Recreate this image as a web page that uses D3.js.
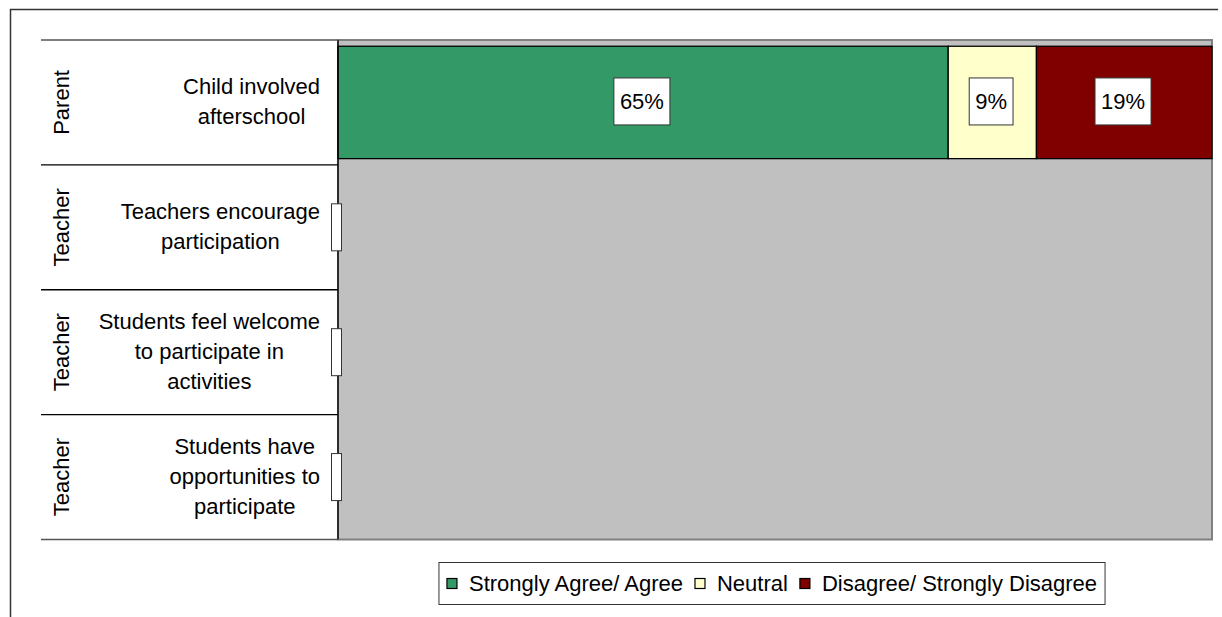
<!DOCTYPE html>
<html>
<head>
<meta charset="utf-8">
<script src="https://cdn.jsdelivr.net/npm/d3@7"></script>
<style>
  html, body { margin: 0; padding: 0; background: #ffffff; }
  svg { display: block; }
  text { font-family: "Liberation Sans", Arial, sans-serif; fill: #000; }
</style>
</head>
<body>
<svg id="chart" width="1222" height="617"></svg>
<script>
// ---- data ----
const groups = ["Parent", "Teacher", "Teacher", "Teacher"];
const categories = [
  "Child involved\nafterschool",
  "Teachers encourage\nparticipation",
  "Students feel welcome\nto participate in\nactivities",
  "Students have\nopportunities to\nparticipate"
];
const seriesNames = ["Strongly Agree/ Agree", "Neutral", "Disagree/ Strongly Disagree"];
const agreeValues    = [65,   null, null, null];
const neutralValues  = [9.4,  null, null, null];
const disagreeValues = [18.7, null, null, null];
const seriesColors = ["#339966", "#FFFFCC", "#800000"];

// ---- layout ----
const svg = d3.select("#chart");
const W = 1222, H = 617;
const plot = { left: 338, right: 1212, top: 40, bottom: 539.5 };
const FONT = 22;

// outer chart frame (only top and left edges are visible in the crop)
svg.append("path")
  .attr("d", `M10.5,${H} V9.5 H1218`)
  .attr("fill", "none").attr("stroke", "#333").attr("stroke-width", 1.5);

const rows = categories.map((c, i) => i);
const y = d3.scaleBand().domain(rows).range([plot.top, plot.bottom])
  .paddingInner(0.1).paddingOuter(0.05);
const x = d3.scaleLinear().domain([0, 1]).range([plot.left, plot.right]);

// plot background
svg.append("rect")
  .attr("x", plot.left).attr("y", plot.top)
  .attr("width", plot.right - plot.left).attr("height", plot.bottom - plot.top)
  .attr("fill", "#C0C0C0").attr("stroke", "#808080").attr("stroke-width", 2);

// stacked (100%) data
const table = rows.map(i => ({
  row: i,
  s0: agreeValues[i] || 0,
  s1: neutralValues[i] || 0,
  s2: disagreeValues[i] || 0,
  raw: [agreeValues[i], neutralValues[i], disagreeValues[i]]
}));
const stack = d3.stack().keys(["s0", "s1", "s2"]).offset(d3.stackOffsetExpand);
const stacked = stack(table);

const barG = svg.append("g");
stacked.forEach((layer, k) => {
  barG.selectAll(null).data(layer.filter(d => d.data["s" + k] > 0)).enter()
    .append("rect")
    .attr("x", d => x(d[0]))
    .attr("y", d => y(d.data.row))
    .attr("width", d => x(d[1]) - x(d[0]))
    .attr("height", y.bandwidth())
    .attr("fill", seriesColors[k])
    .attr("stroke", "#000").attr("stroke-width", 1.3);
});

// left axis line
svg.append("line")
  .attr("x1", plot.left).attr("x2", plot.left)
  .attr("y1", plot.top).attr("y2", plot.bottom)
  .attr("stroke", "#000").attr("stroke-width", 1.3);

// text width helper
const measure = (str, size) => {
  const t = svg.append("text").attr("font-size", size).text(str);
  const w = t.node().getComputedTextLength();
  t.remove();
  return w;
};

// data labels
const labelG = svg.append("g");
const boxH = 47, padX = 6;
stacked.forEach((layer, k) => {
  layer.forEach(d => {
    const v = d.data.raw[k];
    const rowCenter = y(d.data.row) + y.bandwidth() / 2;
    if (v == null) {
      if (k === 0) {
        // empty label box for rows without data
        labelG.append("rect")
          .attr("x", x(0) - 1.5 - 5).attr("y", rowCenter - boxH / 2)
          .attr("width", 10).attr("height", boxH)
          .attr("fill", "#fff").attr("stroke", "#333").attr("stroke-width", 1);
      }
      return;
    }
    const txt = Math.round(v) + "%";
    const tw = measure(txt, FONT);
    const cx = (x(d[0]) + x(d[1])) / 2 - 1.2;
    labelG.append("rect")
      .attr("x", cx - tw / 2 - padX).attr("y", rowCenter - boxH / 2 - 1)
      .attr("width", tw + 2 * padX).attr("height", boxH)
      .attr("fill", "#fff").attr("stroke", "#333").attr("stroke-width", 1);
    labelG.append("text")
      .attr("x", cx).attr("y", rowCenter - 1)
      .attr("dy", "0.36em")
      .attr("text-anchor", "middle")
      .attr("font-size", FONT)
      .text(txt);
  });
});

// multi-level category axis
const axisG = svg.append("g");
const sepX1 = 41;
const bounds = rows.map(i => i === 0 ? plot.top : (y(i - 1) + y.bandwidth() + y(i)) / 2);
bounds.push(plot.bottom);
bounds.forEach((b, i) => {
  axisG.append("line")
    .attr("x1", sepX1).attr("x2", plot.left)
    .attr("y1", b).attr("y2", b)
    .attr("stroke", (i === 0 || i === bounds.length - 1) ? "#555" : "#000")
    .attr("stroke-width", 1.3);
});

const lineH = 30;
const blockRight = 320;
rows.forEach(i => {
  const cy = (bounds[i] + bounds[i + 1]) / 2;
  const lines = categories[i].split("\n");
  const maxW = d3.max(lines, l => measure(l, FONT));
  const cx = blockRight - maxW / 2;
  const t = axisG.append("text")
    .attr("text-anchor", "middle")
    .attr("font-size", FONT);
  lines.forEach((l, j) => {
    t.append("tspan")
      .attr("x", cx)
      .attr("y", cy - 1 + (j - (lines.length - 1) / 2) * lineH)
      .attr("dy", "0.36em")
      .text(l);
  });
  axisG.append("text")
    .attr("transform", `translate(69,${cy}) rotate(-90)`)
    .attr("text-anchor", "middle")
    .attr("font-size", FONT)
    .text(groups[i]);
});

// legend
const legG = svg.append("g");
const sw = 10, swGap = 12, itemGap = 12, legPad = 8;
const widths = seriesNames.map(s => measure(s, FONT));
const totalW = d3.sum(widths, w => sw + swGap + w) + itemGap * (seriesNames.length - 1) + legPad * 2;
const legCx = 772, legTop = 562.5, legH = 42;
const legLeft = legCx - totalW / 2;
legG.append("rect")
  .attr("x", legLeft).attr("y", legTop)
  .attr("width", totalW).attr("height", legH)
  .attr("fill", "#fff").attr("stroke", "#333").attr("stroke-width", 1);
let cursor = legLeft + legPad;
const legMid = legTop + legH / 2;
seriesNames.forEach((s, k) => {
  legG.append("rect")
    .attr("x", cursor).attr("y", legMid - sw / 2)
    .attr("width", sw).attr("height", sw)
    .attr("fill", seriesColors[k]).attr("stroke", "#000").attr("stroke-width", 1.2);
  legG.append("text")
    .attr("x", cursor + sw + swGap).attr("y", legMid)
    .attr("dy", "0.36em")
    .attr("font-size", FONT)
    .text(s);
  cursor += sw + swGap + widths[k] + itemGap;
});
</script>
</body>
</html>
